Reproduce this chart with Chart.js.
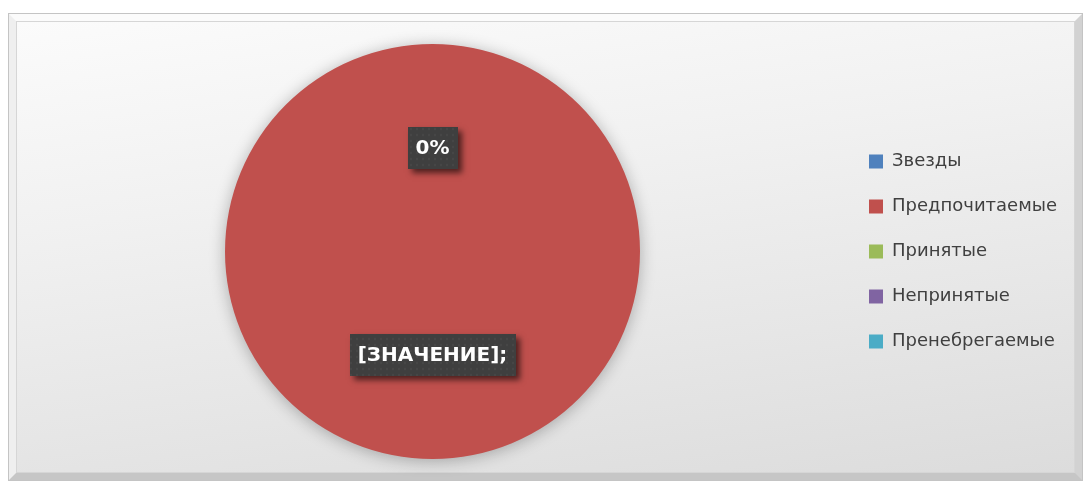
<!DOCTYPE html>
<html>
<head>
<meta charset="utf-8">
<script src="https://cdn.jsdelivr.net/npm/chart.js@4"></script>
<style>
  html, body { margin: 0; padding: 0; background: #fff; }
  body { width: 1084px; height: 482px; position: relative; overflow: hidden; }
  .frame {
    position: absolute; left: 8px; top: 13px; width: 1075px; height: 468px;
    box-sizing: border-box; border: 1px solid #c4c4c4;
  }
  .bevel {
    position: absolute; inset: 0; box-sizing: border-box;
    border-style: solid; border-width: 7px;
    border-color: #fbfbfb #d2d2d2 #c6c6c6 #efefef;
  }
  .inner {
    position: absolute; inset: 0; box-sizing: border-box;
    border: 1px solid #d6d6d6;
    background: linear-gradient(172deg, #fbfbfb 0%, #f1f1f1 35%, #e6e6e6 70%, #dcdcdc 100%);
  }
  #chart { position: absolute; left: 0; top: 0; }
</style>
</head>
<body>
<div class="frame"><div class="bevel"><div class="inner"></div></div></div>
<canvas id="chart" width="1084" height="482"></canvas>
<script>
const categories = ['Звезды', 'Предпочитаемые', 'Принятые', 'Непринятые', 'Пренебрегаемые'];
const values = [0, 100, 0, 0, 0];
const valueLabels = ['0%', '[ЗНАЧЕНИЕ];', '', '', ''];
const colors = ['#4F81BD', '#C0504D', '#9BBB59', '#8064A2', '#4BACC6'];

const legendFamily = '"DejaVu Sans", sans-serif';
const legendSize = 18;
const legendPad = 27;
const boxW = 14;
const legendLeft = 842;

// dotted fill for the label boxes
const pat = document.createElement('canvas');
pat.width = 6; pat.height = 6;
const pctx = pat.getContext('2d');
pctx.fillStyle = '#3f3f3f';
pctx.fillRect(0, 0, 6, 6);
pctx.fillStyle = '#474747';
pctx.beginPath(); pctx.arc(3, 3, 1.2, 0, Math.PI * 2); pctx.fill();

const pieShadow = {
  id: 'pieShadow',
  beforeDatasetsDraw(chart) {
    const ctx = chart.ctx;
    ctx.save();
    ctx.shadowColor = 'rgba(0,0,0,0.28)';
    ctx.shadowBlur = 16;
    ctx.shadowOffsetY = 2;
  },
  afterDatasetsDraw(chart) {
    chart.ctx.restore();
  }
};

const boxLabels = {
  id: 'boxLabels',
  afterDatasetsDraw(chart) {
    const ctx = chart.ctx;
    const meta = chart.getDatasetMeta(0);
    const pattern = ctx.createPattern(pat, 'repeat');
    ctx.save();
    ctx.font = 'bold 20px "DejaVu Sans", sans-serif';
    ctx.textAlign = 'center';
    ctx.textBaseline = 'middle';
    meta.data.forEach((arc, i) => {
      const text = valueLabels[i];
      if (!text) return;
      const p = arc.getCenterPoint();
      const w = Math.round(ctx.measureText(text).width + 16);
      const h = 42;
      const x = Math.round(p.x - w / 2), y = Math.round(p.y - h / 2);
      ctx.save();
      ctx.shadowColor = 'rgba(0,0,0,0.6)';
      ctx.shadowBlur = 6;
      ctx.shadowOffsetX = 4;
      ctx.shadowOffsetY = 4;
      ctx.fillStyle = '#3f3f3f';
      ctx.fillRect(x, y, w, h);
      ctx.restore();
      ctx.fillStyle = pattern;
      ctx.fillRect(x, y, w, h);
      ctx.fillStyle = '#ffffff';
      ctx.fillText(text, p.x, p.y + 1);
    });
    ctx.restore();
  }
};

const ctx = document.getElementById('chart').getContext('2d');
const chart = new Chart(ctx, {
  type: 'pie',
  data: {
    labels: categories,
    datasets: [{
      data: values,
      backgroundColor: colors,
      borderWidth: 0
    }]
  },
  options: {
    responsive: false,
    animation: false,
    devicePixelRatio: 1,
    layout: { padding: { top: 44, bottom: 23, left: 23, right: 20 } },
    plugins: {
      legend: {
        position: 'right',
        align: 'center',
        labels: {
          boxWidth: boxW,
          boxHeight: boxW,
          padding: legendPad,
          color: '#404040',
          font: { family: legendFamily, size: legendSize }
        }
      },
      tooltip: { enabled: false }
    }
  },
  plugins: [pieShadow, boxLabels]
});

// move the legend column so it starts where it does in the picture
const shift = chart.legend.left - legendLeft;
chart.options.layout.padding.right = Math.max(0, 20 + shift);
chart.update();
</script>
</body>
</html>
